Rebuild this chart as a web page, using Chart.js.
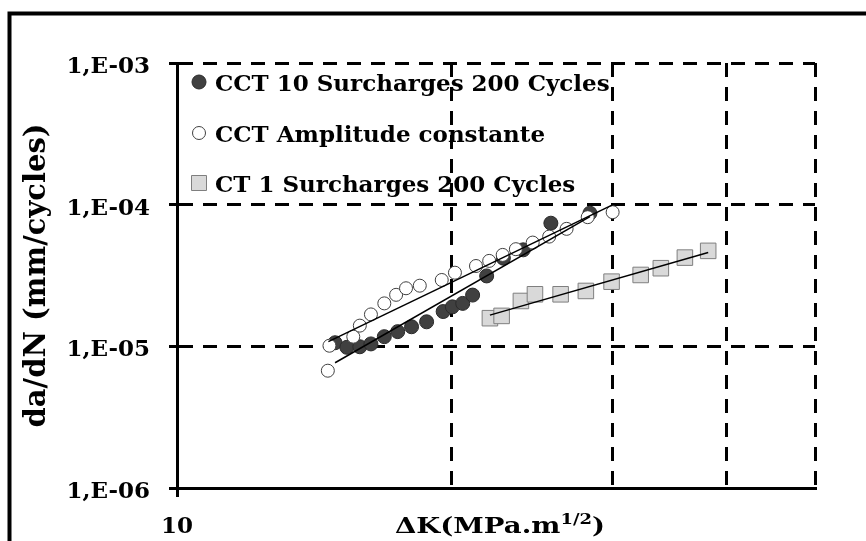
<!DOCTYPE html>
<html lang="fr">
<head>
<meta charset="UTF-8">
<title>da/dN - ΔK</title>
<script src="https://cdn.jsdelivr.net/npm/chart.js"></script>
<style>
  body { margin: 0; background: #fff; }
  #wrap { width: 866px; height: 541px; }
</style>
</head>
<body>
<div id="wrap"><canvas id="myChart" width="866" height="541"></canvas></div>
<script>
// legend names
const seriesNames = ['CCT 10 Surcharges 200 Cycles', 'CCT Amplitude constante', 'CT 1 Surcharges 200 Cycles'];

// CCT 10 Surcharges 200 Cycles (dark circles)
const cct10K = [14.90, 15.35, 15.86, 16.31, 16.87, 17.45, 18.07, 18.77, 19.57, 20.03, 20.56, 21.08, 21.84, 22.78, 23.95, 25.68, 28.34];
const cct10Rate = [1.06e-5, 9.84e-6, 9.93e-6, 1.04e-5, 1.17e-5, 1.27e-5, 1.375e-5, 1.49e-5, 1.76e-5, 1.90e-5, 2.01e-5, 2.30e-5, 3.14e-5, 4.19e-5, 4.80e-5, 7.40e-5, 8.71e-5];

// CCT Amplitude constante (open circles)
const cctCaK = [14.63, 14.69, 15.60, 15.86, 16.31, 16.87, 17.38, 17.82, 18.45, 19.50, 20.16, 21.26, 21.98, 22.74, 23.51, 24.53, 25.57, 26.72, 28.18, 30.01];
const cctCaRate = [6.73e-6, 1.01e-5, 1.17e-5, 1.40e-5, 1.68e-5, 2.01e-5, 2.31e-5, 2.57e-5, 2.68e-5, 2.94e-5, 3.31e-5, 3.69e-5, 4.01e-5, 4.42e-5, 4.85e-5, 5.40e-5, 5.95e-5, 6.75e-5, 8.16e-5, 8.85e-5];

// CT 1 Surcharges 200 Cycles (grey squares)
const ct1K = [22.02, 22.68, 23.81, 24.67, 26.32, 28.05, 29.93, 32.21, 33.89, 36.01, 38.19];
const ct1Rate = [1.58e-5, 1.64e-5, 2.09e-5, 2.33e-5, 2.33e-5, 2.46e-5, 2.86e-5, 3.19e-5, 3.56e-5, 4.23e-5, 4.72e-5];

// trend lines, start and end
const fitCct10K = [14.90, 28.34];
const fitCct10Rate = [7.66e-6, 8.24e-5];
const fitCctCaK = [14.65, 30.0];
const fitCctCaRate = [1.08e-5, 9.97e-5];
const fitCt1K = [22.02, 38.19];
const fitCt1Rate = [1.66e-5, 4.59e-5];

// axes
const xTicks = [10, 20, 30, 40, 50];
const xTickLabels = ['10', '', '', '', ''];
const yTicks = [1e-6, 1e-5, 1e-4, 1e-3];
const yTickLabels = ['1,E-06', '1,E-05', '1,E-04', '1,E-03'];
const xTitleParts = ['ΔK(MPa.m', '1/2', ')'];
const yTitle = 'da/dN (mm/cycles)';

const FONT = '"DejaVu Serif", serif';

function pts(xs, ys) {
    return xs.map((x, i) => ({ x: x, y: ys[i] }));
}

function fitLine(xs, ys) {
    return {
        data: pts(xs, ys),
        showLine: true,
        borderColor: '#000',
        borderWidth: 1.5,
        pointRadius: 0,
        fill: false,
        order: 0
    };
}

const markerSets = [
    {
        label: seriesNames[0],
        data: pts(cct10K, cct10Rate),
        pointStyle: 'circle',
        radius: 7,
        backgroundColor: '#404040',
        borderColor: '#2a2a2a',
        borderWidth: 1,
        order: 3
    },
    {
        label: seriesNames[1],
        data: pts(cctCaK, cctCaRate),
        pointStyle: 'circle',
        radius: 6.5,
        backgroundColor: '#ffffff',
        borderColor: '#404040',
        borderWidth: 1,
        order: 2
    },
    {
        label: seriesNames[2],
        data: pts(ct1K, ct1Rate),
        pointStyle: 'rect',
        radius: 11,
        backgroundColor: '#d9d9d9',
        borderColor: '#7f7f7f',
        borderWidth: 1,
        order: 1
    }
];

// legend drawn inside the plot, under the gridlines
const insideLegend = {
    id: 'insideLegend',
    beforeDraw(chart) {
        const ctx = chart.ctx;
        const area = chart.chartArea;
        const rows = [28, 79, 129];
        ctx.save();
        ctx.font = 'bold 23px ' + FONT;
        ctx.textBaseline = 'alphabetic';
        ctx.textAlign = 'left';
        markerSets.forEach((ds, i) => {
            const cx = area.left + 22;
            const cy = area.top + rows[i] - 9;
            ctx.fillStyle = ds.backgroundColor;
            ctx.strokeStyle = ds.borderColor;
            ctx.lineWidth = 1;
            ctx.beginPath();
            if (ds.pointStyle === 'rect') {
                ctx.rect(cx - 7.5, cy - 7.5, 15, 15);
            } else {
                ctx.arc(cx, cy, ds.radius, 0, Math.PI * 2);
            }
            ctx.fill();
            ctx.stroke();
            ctx.fillStyle = '#000';
            ctx.fillText(ds.label, area.left + 38, area.top + rows[i]);
        });
        ctx.restore();
    },
    afterDraw(chart) {
        const ctx = chart.ctx;
        ctx.save();
        // outer frame
        ctx.strokeStyle = '#000';
        ctx.lineWidth = 4;
        ctx.strokeRect(9.5, 13.5, 1000, 1000);

        // x axis title with superscript
        const big = 'bold 23px ' + FONT;
        const small = 'bold 15px ' + FONT;
        ctx.font = big;
        const w0 = ctx.measureText(xTitleParts[0]).width;
        const w2 = ctx.measureText(xTitleParts[2]).width;
        ctx.font = small;
        const w1 = ctx.measureText(xTitleParts[1]).width;
        const total = w0 + w1 + w2;
        const sx = Math.max(1, Math.min(1.3, 210 / total));
        ctx.translate(500, 533);
        ctx.scale(sx, 1);
        ctx.fillStyle = '#000';
        ctx.textBaseline = 'alphabetic';
        ctx.textAlign = 'left';
        let x = -total / 2;
        ctx.font = big;
        ctx.fillText(xTitleParts[0], x, 0);
        x += w0;
        ctx.font = small;
        ctx.fillText(xTitleParts[1], x, -9);
        x += w1;
        ctx.font = big;
        ctx.fillText(xTitleParts[2], x, 0);
        ctx.restore();
    }
};

const ctx = document.getElementById('myChart').getContext('2d');
const myChart = new Chart(ctx, {
    type: 'scatter',
    data: {
        datasets: [
            fitLine(fitCct10K, fitCct10Rate),
            fitLine(fitCctCaK, fitCctCaRate),
            fitLine(fitCt1K, fitCt1Rate)
        ].concat(markerSets)
    },
    options: {
        responsive: false,
        animation: false,
        devicePixelRatio: 1,
        layout: { padding: { left: 0, top: 63, right: 51, bottom: 0 } },
        plugins: {
            legend: { display: false },
            tooltip: { enabled: false }
        },
        scales: {
            x: {
                type: 'logarithmic',
                min: 10,
                max: 50,
                afterBuildTicks: (scale) => { scale.ticks = xTicks.map(v => ({ value: v })); },
                afterFit: (scale) => { scale.height = 53; },
                ticks: {
                    autoSkip: false,
                    maxRotation: 0,
                    padding: 16,
                    color: '#000',
                    font: { family: FONT, size: 23, weight: 'bold' },
                    callback: (value, index) => xTickLabels[index]
                },
                grid: {
                    color: '#000',
                    lineWidth: 3,
                    tickLength: 9,
                    tickWidth: 3,
                    tickColor: (c) => c.index === 0 ? '#000' : 'rgba(0,0,0,0)'
                },
                border: { display: true, color: '#000', width: 3, dash: [14, 10] }
            },
            y: {
                type: 'logarithmic',
                min: 1e-6,
                max: 1e-3,
                afterBuildTicks: (scale) => { scale.ticks = yTicks.map(v => ({ value: v })); },
                afterFit: (scale) => { scale.width = 177; },
                ticks: {
                    autoSkip: false,
                    padding: 19,
                    labelOffset: 4,
                    color: '#000',
                    font: { family: FONT, size: 23, weight: 'bold' },
                    callback: (value, index) => yTickLabels[index]
                },
                grid: {
                    color: '#000',
                    lineWidth: 3,
                    tickLength: 8,
                    tickWidth: 3,
                    tickColor: '#000'
                },
                border: { display: true, color: '#000', width: 3, dash: [14, 10] },
                title: {
                    display: true,
                    text: yTitle,
                    color: '#000',
                    font: { family: FONT, size: 29, weight: 'bold' },
                    padding: { top: 20, bottom: 0 }
                }
            }
        }
    },
    plugins: [insideLegend]
});
</script>
</body>
</html>
